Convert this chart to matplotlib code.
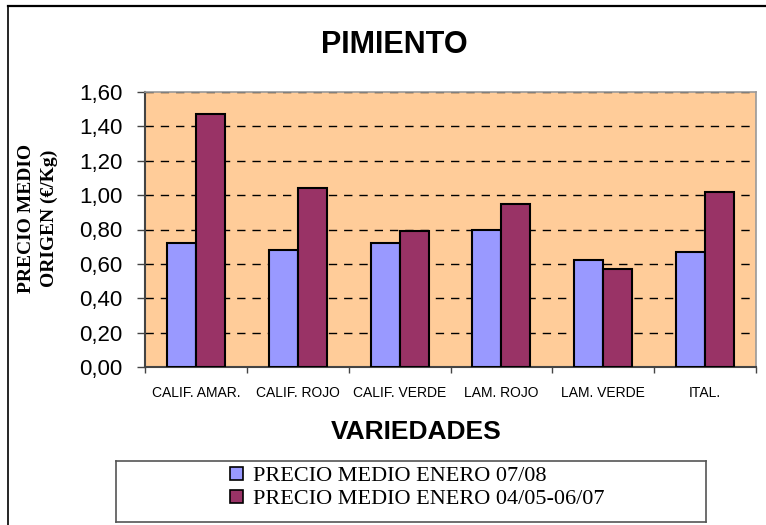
import matplotlib
matplotlib.use("Agg")
import numpy as np
import matplotlib.pyplot as plt
from matplotlib.lines import Line2D
from matplotlib.patches import Patch
from matplotlib.ticker import FixedLocator

# datos del grafico
variedades = ['CALIF. AMAR.', 'CALIF. ROJO', 'CALIF. VERDE', 'LAM. ROJO', 'LAM. VERDE', 'ITAL.']
precio_0708 = [0.72, 0.68, 0.72, 0.80, 0.62, 0.67]
precio_0407 = [1.47, 1.04, 0.79, 0.95, 0.57, 1.02]
serie_nombres = ['PRECIO MEDIO ENERO 07/08', 'PRECIO MEDIO ENERO 04/05-06/07']
yticks = [0.0, 0.2, 0.4, 0.6, 0.8, 1.0, 1.2, 1.4, 1.6]

W, H = 766, 525
fig = plt.figure(figsize=(W / 100, H / 100), dpi=100)

def fx(px):
    return px / W

def fy(py):
    return 1 - py / H

# marco exterior (solo izquierda y arriba visibles)
fig.add_artist(Line2D([fx(8), fx(8)], [fy(6), 0], color='black', lw=1.2))
fig.add_artist(Line2D([fx(8), 1], [fy(6), fy(6)], color='black', lw=1.6))

ax = fig.add_axes([fx(145), fy(367), fx(756) - fx(145), (367 - 92) / H])
ax.set_facecolor('#FFCC99')

x = np.arange(len(variedades))
bw = 0.285
ax.bar(x - bw / 2, precio_0708, bw, color='#9999FF', edgecolor='black', lw=1.5, zorder=3)
ax.bar(x + bw / 2, precio_0407, bw, color='#993366', edgecolor='black', lw=1.5, zorder=3)

ax.set_xlim(-0.5, len(variedades) - 0.5)
ax.set_ylim(0, 1.6)
ax.set_yticks(yticks)
ax.set_yticklabels([f'{v:.2f}'.replace('.', ',') for v in yticks],
                   fontsize=16, family='Liberation Sans')
ax.tick_params(axis='y', length=6, width=1, color='#444444', pad=10)

# ticks entre categorias, etiquetas en el centro
ax.xaxis.set_major_locator(FixedLocator(np.arange(-0.5, len(variedades), 1)))
ax.set_xticklabels([])
ax.xaxis.set_minor_locator(FixedLocator(x))
ax.set_xticklabels(variedades, minor=True, fontsize=10, family='Liberation Sans')
ax.tick_params(axis='x', which='major', length=4, width=1, color='#444444')
ax.tick_params(axis='x', which='minor', length=0, pad=14)

ax.yaxis.grid(True, linestyle=(0, (6, 5)), color='black', lw=1, zorder=1)
ax.set_axisbelow(True)
for s in ['top', 'right']:
    ax.spines[s].set_color('#999999')
    ax.spines[s].set_linewidth(1.2)
for s in ['left', 'bottom']:
    ax.spines[s].set_color('#444444')
    ax.spines[s].set_linewidth(1.5)

fig.text(fx(394), fy(45), 'PIMIENTO', ha='center', va='center', fontsize=22,
         fontweight='bold', family='Liberation Sans')
fig.text(fx(416), fy(432), 'VARIEDADES', ha='center', va='center', fontsize=19,
         fontweight='bold', family='Liberation Sans')
fig.text(fx(38), fy(218), 'PRECIO MEDIO\nORIGEN (€/Kg)', ha='center', va='center',
         rotation=90, fontsize=14, fontweight='bold', family='Liberation Serif',
         linespacing=1.45)

handles = [Patch(facecolor='#9999FF', edgecolor='black', lw=1.2),
           Patch(facecolor='#993366', edgecolor='black', lw=1.2)]
leg_ax = fig.add_axes([fx(116), fy(522), fx(706) - fx(116), (522 - 461) / H])
leg_ax.set_xticks([])
leg_ax.set_yticks([])
for s in leg_ax.spines.values():
    s.set_color('#555555')
    s.set_linewidth(1.2)
leg_ax.legend(handles, serie_nombres, loc='center left', bbox_to_anchor=(0.175, 0.56),
              frameon=False, prop={'family': 'Liberation Serif', 'size': 16},
              handlelength=0.55, handleheight=0.55, handletextpad=0.45,
              labelspacing=0.15, borderpad=0)

fig.savefig('out.png', dpi=100)
